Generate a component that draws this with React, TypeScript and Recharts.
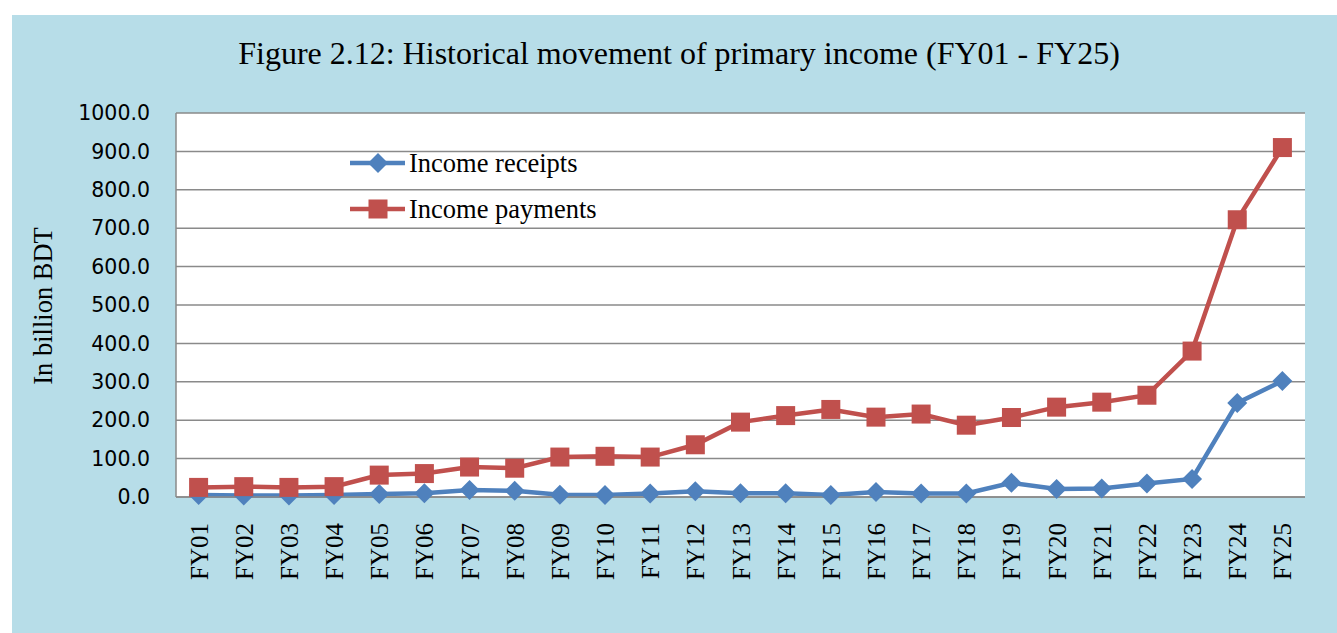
import React from 'react';
import { LineChart, Line, XAxis, YAxis, CartesianGrid, Legend } from 'recharts';

const categories = ['FY01','FY02','FY03','FY04','FY05','FY06','FY07','FY08','FY09','FY10','FY11','FY12','FY13','FY14','FY15','FY16','FY17','FY18','FY19','FY20','FY21','FY22','FY23','FY24','FY25'];
const incomeReceipts = [5,4,4,5,8,10,18,16,6,5,9,15,10,10,5,13,9,9,37,21,22,35,47,245,302];
const incomePayments = [25,27,25,27,57,61,78,75,104,106,104,136,195,212,228,208,216,187,207,234,247,265,380,722,910];
const yTicks = [0,100,200,300,400,500,600,700,800,900,1000];

const data = categories.map((c, i) => ({ name: c, receipts: incomeReceipts[i], payments: incomePayments[i] }));

const BLUE = '#4F81BD';
const RED = '#C0504D';
const SERIF = '"Liberation Serif", "Times New Roman", serif';

const Diamond = (props: any) => {
  const { cx, cy } = props;
  if (cx == null || cy == null) return null;
  const r = 10;
  return <polygon points={`${cx},${cy - r} ${cx + r},${cy} ${cx},${cy + r} ${cx - r},${cy}`} fill={BLUE} />;
};

const Square = (props: any) => {
  const { cx, cy } = props;
  if (cx == null || cy == null) return null;
  const s = 19;
  return <rect x={cx - s / 2} y={cy - s / 2} width={s} height={s} fill={RED} />;
};

const XTick = (props: any) => {
  const { x, y, payload } = props;
  return (
    <g transform={`translate(${x},${y})`}>
      <text transform="rotate(-90)" x={-26} y={9} textAnchor="end" fontFamily={SERIF} fontSize={25} fill="#000">
        {payload.value}
      </text>
    </g>
  );
};

const LegendContent = () => (
  <svg width={280} height={90}>
    <line x1={0} y1={20} x2={55} y2={20} stroke={BLUE} strokeWidth={4.5} />
    <Diamond cx={28} cy={20} />
    <text x={59} y={29} fontFamily={SERIF} fontSize={26.5} fill="#000">Income receipts</text>
    <line x1={0} y1={66} x2={55} y2={66} stroke={RED} strokeWidth={4.5} />
    <Square cx={28} cy={66} />
    <text x={59} y={75} fontFamily={SERIF} fontSize={26.5} fill="#000">Income payments</text>
  </svg>
);

export default function App() {
  return (
    <div style={{ position: 'absolute', left: 0, top: 0, width: 1337, height: 633, background: '#fff' }}>
      <div style={{ position: 'absolute', left: 12, top: 15, width: 1325, height: 618, background: '#B7DDE8' }}>
        <div style={{ position: 'absolute', left: 0, top: 20, width: 1334, textAlign: 'center', fontFamily: SERIF, fontSize: 32, lineHeight: '36px', color: '#000', whiteSpace: 'nowrap' }}>
          Figure 2.12: Historical movement of primary income (FY01 - FY25)
        </div>
        <LineChart width={1325} height={618} data={data} margin={{ top: 98, right: 32, bottom: 0, left: 0 }}>
          <CartesianGrid vertical={false} fill="#fff" stroke="#8a8a8a" strokeWidth={1.5} />
          <XAxis dataKey="name" interval={0} padding={{ left: 22.6, right: 22.6 }} tick={<XTick />} tickLine={false} tickSize={0} tickMargin={0} height={136} axisLine={{ stroke: '#8a8a8a', strokeWidth: 1.5 }} />
          <YAxis
            width={164}
            domain={[0, 1000]}
            ticks={yTicks}
            tickFormatter={(v: number) => v.toFixed(1)}
            tickLine={false}
            tickSize={0}
            tickMargin={26}
            axisLine={{ stroke: '#8a8a8a', strokeWidth: 1.5 }}
            tick={{ fontFamily: '"DejaVu Sans", sans-serif', fontSize: 20.5, fill: '#000' }}
            label={{
              content: () => (
                <text x={31} y={291} transform="rotate(-90, 31, 291)" textAnchor="middle" dominantBaseline="central" fontFamily={SERIF} fontSize={26.5} fill="#000">
                  In billion BDT
                </text>
              ),
            }}
          />
          <Legend layout="vertical" align="center" verticalAlign="middle" content={<LegendContent />} wrapperStyle={{ position: 'absolute', left: 338, top: 128, width: 280, height: 90 }} />
          <Line type="linear" dataKey="receipts" name="Income receipts" stroke={BLUE} strokeWidth={4.5} dot={(p: any) => <Diamond key={`d${p.index}`} {...p} />} isAnimationActive={false} />
          <Line type="linear" dataKey="payments" name="Income payments" stroke={RED} strokeWidth={4.5} dot={(p: any) => <Square key={`s${p.index}`} {...p} />} isAnimationActive={false} />
        </LineChart>
      </div>
    </div>
  );
}
